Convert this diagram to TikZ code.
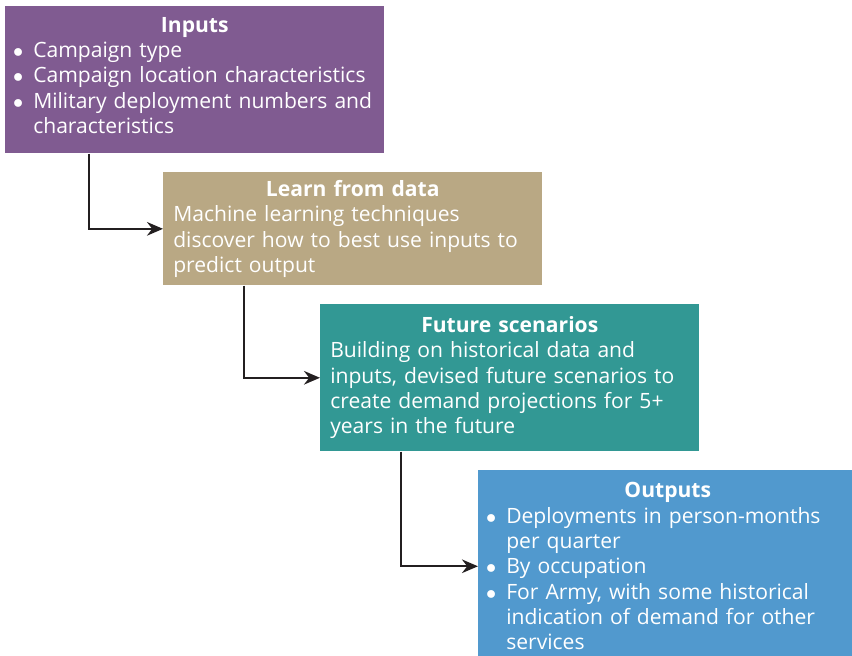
\documentclass[tikz,border=0pt]{standalone}
\usepackage{fontspec}
\setmainfont{Open Sans}
\usetikzlibrary{positioning,arrows.meta}
\definecolor{inpurple}{RGB}{128,91,145}
\definecolor{learntan}{RGB}{185,168,132}
\definecolor{futteal}{RGB}{50,152,148}
\definecolor{outblue}{RGB}{81,153,206}
\definecolor{linkgray}{RGB}{35,31,32}
\hyphenpenalty=10000
\newcommand{\hd}[1]{\makebox[\linewidth][c]{\bfseries #1}\par}
\newcommand{\bul}[1]{\hangindent=12.8pt\hangafter=1\noindent\makebox[12.8pt][l]{\hspace{-1.5pt}$\bullet$}#1\par}
\tikzset{
  stage/.style={anchor=north west,text=white,align=left,text width=8.975cm,
                inner xsep=0.25cm,inner ysep=0.2cm,
                font=\fontsize{15}{18}\selectfont},
  flow/.style={-{Stealth[length=4mm,width=3.4mm]},line width=1.6pt,linkgray}
}
\begin{document}
\begin{tikzpicture}
  \useasboundingbox (0,0) rectangle (21.3,-16.4);
  % the four stages, stepping down to the right
  \node[stage,fill=inpurple,minimum height=3.675cm] (inp) at (0.125,-0.15) {\hd{Inputs}%
    \bul{Campaign type}\bul{Campaign location characteristics}%
    \bul{Military deployment numbers and characteristics}\vspace*{0.22cm}};
  \node[stage,fill=learntan,minimum height=2.825cm] (learn) at (4.075,-4.3) {\hd{Learn from data}%
    Machine learning techniques discover how to best use inputs to predict output};
  \node[stage,fill=futteal,minimum height=3.675cm] (fut) at (8.0,-7.6) {\hd{Future scenarios}%
    Building on historical data and inputs, devised future scenarios to create demand projections for 5+ years in the future};
  \node[stage,fill=outblue,minimum height=4.8cm] (out) at (11.95,-11.75) {\hd{Outputs}%
    \bul{Deployments in person-months per quarter}\bul{By occupation}%
    \bul{For Army, with some historical indication of demand for other services}};
  % elbow connectors
  \draw[flow] ([xshift=2.1cm]inp.south west) |- (learn.west);
  \draw[flow] ([xshift=2.02cm]learn.south west) |- (fut.west);
  \draw[flow] ([xshift=2.02cm]fut.south west) |- (out.west);
\end{tikzpicture}
\end{document}
